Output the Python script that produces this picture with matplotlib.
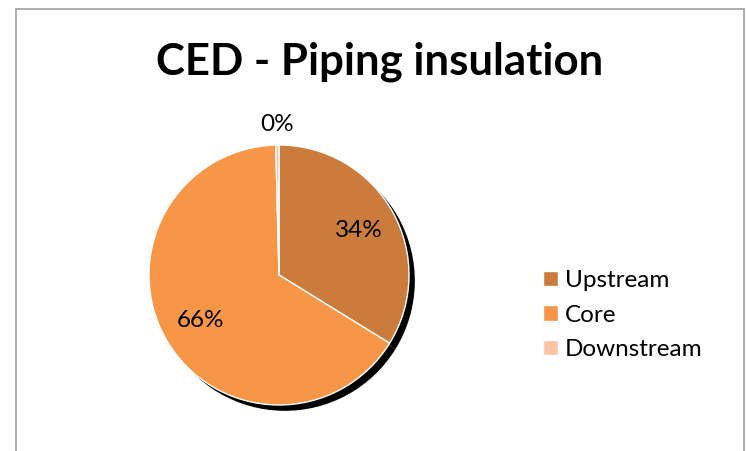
import matplotlib
matplotlib.use("Agg")
import matplotlib.pyplot as plt
import matplotlib.patches as mpatches
import numpy as np

categories = ["Upstream", "Core", "Downstream"]
values = [33.8, 65.8, 0.4]
colors = ["#CB7B3B", "#F79646", "#FBC3A6"]
title = "CED - Piping insulation"

plt.rcParams['font.family'] = ['Lato', 'DejaVu Sans']

W, H = 747, 451
fig = plt.figure(figsize=(W / 100, H / 100), dpi=100)

# border
fig.patches.append(mpatches.Rectangle((16 / W, -0.1), (744 - 16) / W, 1.1 - 9 / H,
                                      transform=fig.transFigure, fill=False,
                                      edgecolor="#A0A0A0", linewidth=1.2))

cx, cy, side = 279, 451 - 275, 300
ax = fig.add_axes([(cx - side / 2) / W, (cy - side / 2) / H, side / W, side / H])
R = 1.3
wedges, texts, autotexts = ax.pie(values, colors=colors, startangle=90, counterclock=False,
                                  radius=R, autopct='%.0f%%', pctdistance=0.7,
                                  wedgeprops=dict(edgecolor="white", linewidth=1),
                                  textprops=dict(fontsize=17.5, color="#000000"))
for w in wedges:
    sh = mpatches.Shadow(w, 0.042, -0.042, shade=1.0, alpha=1.0, zorder=w.get_zorder() - 0.5)
    sh.set_edgecolor("none")
    ax.add_patch(sh)

# move the tiny slice label outside
w = wedges[2]
mid = np.deg2rad((w.theta1 + w.theta2) / 2)
autotexts[2].set_position((1.16 * R * np.cos(mid), 1.16 * R * np.sin(mid)))

ax.set_xlim(-1.5, 1.5)
ax.set_ylim(-1.5, 1.5)
ax.set_aspect('equal')
ax.axis('off')

fig.text(380 / W, 1 - 62 / H, title, ha='center', va='center', fontsize=31.5, fontweight='bold')

fig.legend(wedges, categories, loc='center left', bbox_to_anchor=(543 / W, 1 - 315 / H),
           frameon=False, fontsize=17.5, handlelength=0.6, handleheight=0.6,
           handletextpad=0.3, labelspacing=0.55, borderaxespad=0, borderpad=0)

fig.savefig("out.png", dpi=100)
